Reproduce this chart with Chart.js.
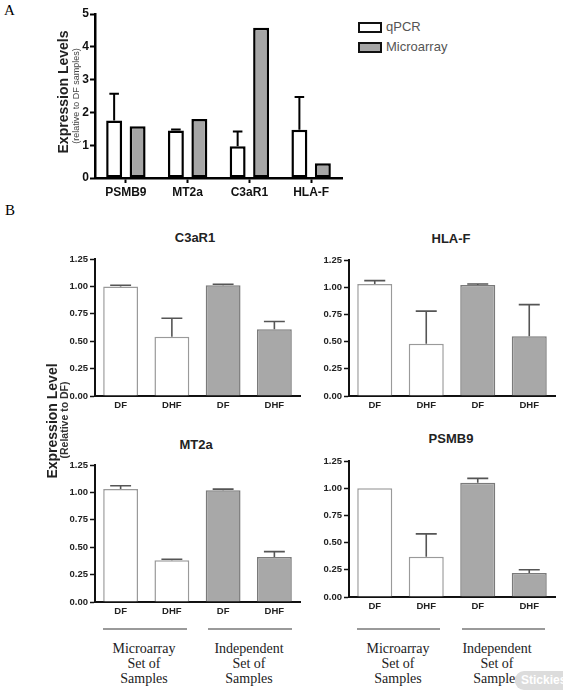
<!DOCTYPE html>
<html>
<head>
<meta charset="utf-8">
<script src="https://cdn.jsdelivr.net/npm/chart.js@4.4.1/dist/chart.umd.min.js"></script>
<style>
  body { margin: 0; background: #fff; width: 563px; height: 697px; overflow: hidden; position: relative; font-family: 'Liberation Sans', Arial, sans-serif; }
  canvas { position: absolute; }
  .t { position: absolute; white-space: nowrap; }
  .c { position: absolute; width: 120px; text-align: center; white-space: nowrap; }
  .rot { position: absolute; white-space: nowrap; transform: translate(-50%, -50%) rotate(-90deg); }
  .serif { font-family: 'Liberation Serif', 'Times New Roman', serif; }
  .bracket { position: absolute; height: 2px; background: #9a9a9a; }
  .sw { display: inline-block; width: 20px; height: 7px; border: 2px solid #111; vertical-align: middle; margin-right: 4px; }
</style>
</head>
<body>

<div class="t serif" style="left:4px; top:2px; font-size:15px;">A</div>
<div class="t serif" style="left:5px; top:202px; font-size:15px;">B</div>

<canvas id="chartA" width="350" height="200" style="left:0; top:0;"></canvas>
<div class="rot" style="left:63px; top:92px; font-size:14px; font-weight:bold; color:#222;">Expression Levels</div>
<div class="rot" style="left:76px; top:96px; font-size:9px; color:#444;">(relative to DF samples)</div>

<div class="t" style="left:358px; top:17px; font-size:13px; color:#555; line-height:20px;">
  <div><span class="sw" style="background:#fff;"></span>qPCR</div>
  <div><span class="sw" style="background:#a6a6a6;"></span>Microarray</div>
</div>

<div class="c" style="left:135px; top:230px; font-size:13px; font-weight:bold; color:#222;">C3aR1</div>
<div class="c" style="left:391px; top:231px; font-size:13px; font-weight:bold; color:#222;">HLA-F</div>
<div class="c" style="left:136px; top:437px; font-size:13px; font-weight:bold; color:#222;">MT2a</div>
<div class="c" style="left:391px; top:431px; font-size:13px; font-weight:bold; color:#222;">PSMB9</div>

<canvas id="chartC3" width="255" height="190" style="left:50px; top:225px;"></canvas>
<canvas id="chartHLA" width="255" height="190" style="left:305px; top:225px;"></canvas>
<canvas id="chartMT" width="255" height="190" style="left:50px; top:430px;"></canvas>
<canvas id="chartPS" width="255" height="190" style="left:305px; top:430px;"></canvas>

<div class="rot" style="left:52px; top:421px; font-size:14px; font-weight:bold; color:#222;">Expression Level</div>
<div class="rot" style="left:64px; top:420px; font-size:10.5px; font-weight:bold; color:#333;">(Relative to DF)</div>

<div class="bracket" style="left:103px; top:628px; width:84px;"></div>
<div class="bracket" style="left:208px; top:628px; width:84px;"></div>
<div class="bracket" style="left:357px; top:628px; width:83px;"></div>
<div class="bracket" style="left:462px; top:628px; width:83px;"></div>

<div class="c serif" style="left:84px; top:641px; font-size:14px; line-height:15px; color:#222;">Microarray<br>Set of<br>Samples</div>
<div class="c serif" style="left:189px; top:641px; font-size:14px; line-height:15px; color:#222;">Independent<br>Set of<br>Samples</div>
<div class="c serif" style="left:338px; top:641px; font-size:14px; line-height:15px; color:#222;">Microarray<br>Set of<br>Samples</div>
<div class="c serif" style="left:437px; top:641px; font-size:14px; line-height:15px; color:#222;">Independent<br>Set of<br>Samples</div>

<div class="t" style="left:515px; top:671px; width:60px; height:19px; border-radius:9px; background:#dcdcdc; color:#fff; font-size:12px; font-weight:bold; line-height:19px; padding-left:6px;">Stickies</div>

<script>
// Panel A: qPCR vs microarray
var genesA = ['PSMB9', 'MT2a', 'C3aR1', 'HLA-F'];
var qpcrA = [1.75, 1.45, 0.97, 1.47];
var qpcrErrTopA = [2.57, 1.48, 1.42, 2.47];
var microA = [1.58, 1.80, 4.58, 0.45];
var yTicksA = [0, 1, 2, 3, 4, 5];

// Panel B: DF / DHF in the two sample sets
var groupsB = ['DF', 'DHF', 'DF', 'DHF'];
var c3ar1Vals = [1.00, 0.54, 1.01, 0.61];
var c3ar1ErrTop = [1.01, 0.71, 1.02, 0.68];
var hlafVals = [1.03, 0.48, 1.02, 0.55];
var hlafErrTop = [1.06, 0.78, 1.03, 0.84];
var mt2aVals = [1.03, 0.38, 1.02, 0.41];
var mt2aErrTop = [1.06, 0.39, 1.03, 0.46];
var psmb9Vals = [1.00, 0.37, 1.05, 0.22];
var psmb9ErrTop = [1.00, 0.58, 1.09, 0.25];
var yTicksB = [0, 0.25, 0.5, 0.75, 1.0, 1.25];

var FONT = "'Liberation Sans', Arial, sans-serif";

// upper error bars, drawn from the bar top to errTop
var errorBars = {
    id: 'errorBars',
    afterDatasetsDraw: function(chart) {
        var ctx = chart.ctx;
        var ys = chart.scales.y;
        chart.data.datasets.forEach(function(ds, di) {
            if (!ds.errTop) return;
            var meta = chart.getDatasetMeta(di);
            meta.data.forEach(function(bar, i) {
                var top = ds.errTop[i];
                if (top == null || top <= ds.data[i]) return;
                var y0 = ys.getPixelForValue(ds.data[i]);
                var y1 = ys.getPixelForValue(top);
                var cap = bar.width * 0.3;
                ctx.save();
                ctx.strokeStyle = ds.errColor;
                ctx.lineWidth = ds.errWidth;
                ctx.beginPath();
                ctx.moveTo(bar.x, y0);
                ctx.lineTo(bar.x, y1);
                ctx.moveTo(bar.x - cap, y1);
                ctx.lineTo(bar.x + cap, y1);
                ctx.stroke();
                ctx.restore();
            });
        });
    }
};

new Chart(document.getElementById('chartA'), {
    type: 'bar',
    data: {
        labels: genesA,
        datasets: [{
            label: 'qPCR',
            data: qpcrA,
            errTop: qpcrErrTopA,
            errColor: '#000',
            errWidth: 2,
            backgroundColor: '#fff',
            borderColor: '#000',
            borderWidth: 2.5,
            borderSkipped: false,
            barPercentage: 0.68,
            categoryPercentage: 0.76
        }, {
            label: 'Microarray',
            data: microA,
            backgroundColor: '#a6a6a6',
            borderColor: '#000',
            borderWidth: 2.5,
            borderSkipped: false,
            barPercentage: 0.68,
            categoryPercentage: 0.76
        }]
    },
    options: {
        responsive: false,
        animation: false,
        layout: { padding: { top: 14, right: 8, left: 0, bottom: 0 } },
        plugins: { legend: { display: false }, tooltip: { enabled: false } },
        scales: {
            x: {
                offset: true,
                grid: { display: true, drawOnChartArea: false, offset: false, tickLength: 5, tickWidth: 2, tickColor: '#000' },
                border: { color: '#000', width: 2.5 },
                ticks: { font: { family: FONT, size: 12, weight: 'bold' }, color: '#111', padding: 2 },
                afterFit: function(s) { s.height = 22; }
            },
            y: {
                min: 0,
                max: 5,
                afterBuildTicks: function(s) { s.ticks = yTicksA.map(function(v) { return { value: v }; }); },
                grid: { display: true, drawOnChartArea: false, tickLength: 5, tickWidth: 2, tickColor: '#000' },
                border: { color: '#000', width: 2.5 },
                ticks: { font: { family: FONT, size: 12, weight: 'bold' }, color: '#111', padding: 1 },
                afterFit: function(s) { s.width = 95; }
            }
        }
    },
    plugins: [errorBars]
});

function makeB(id, vals, errTop, yWidth, padTop, xHeight) {
    return new Chart(document.getElementById(id), {
        type: 'bar',
        data: {
            labels: groupsB,
            datasets: [{
                data: vals,
                errTop: errTop,
                errColor: '#555',
                errWidth: 1.6,
                backgroundColor: ['#fff', '#fff', '#a8a8a8', '#a8a8a8'],
                borderColor: ['#9a9a9a', '#9a9a9a', '#7a7a7a', '#7a7a7a'],
                borderWidth: 1.5,
                borderSkipped: 'bottom',
                barPercentage: 0.68,
                categoryPercentage: 1
            }]
        },
        options: {
            responsive: false,
            animation: false,
            layout: { padding: { top: padTop, right: 5, left: 0, bottom: 0 } },
            plugins: { legend: { display: false }, tooltip: { enabled: false } },
            scales: {
                x: {
                    offset: true,
                    grid: { display: true, drawOnChartArea: false, tickLength: 2, tickColor: 'rgba(0,0,0,0)' },
                    border: { color: '#111', width: 2 },
                    ticks: { font: { family: FONT, size: 9.5, weight: 'bold' }, color: '#222', padding: 2 },
                    afterFit: function(s) { s.height = xHeight; }
                },
                y: {
                    min: 0,
                    max: 1.25,
                    afterBuildTicks: function(s) { s.ticks = yTicksB.map(function(v) { return { value: v }; }); },
                    grid: { display: true, drawOnChartArea: false, tickLength: 5, tickWidth: 1.5, tickColor: '#111' },
                    border: { color: '#111', width: 2 },
                    ticks: {
                        font: { family: FONT, size: 9.5, weight: 'bold' }, color: '#222', padding: 2,
                        callback: function(v) { return Number(v).toFixed(2); }
                    },
                    afterFit: function(s) { s.width = yWidth; }
                }
            }
        },
        plugins: [errorBars]
    });
}

makeB('chartC3', c3ar1Vals, c3ar1ErrTop, 45, 34, 19);
makeB('chartHLA', hlafVals, hlafErrTop, 44, 35, 19);
makeB('chartMT', mt2aVals, mt2aErrTop, 45, 35, 18);
makeB('chartPS', psmb9Vals, psmb9ErrTop, 44, 31, 23);
</script>
</body>
</html>
